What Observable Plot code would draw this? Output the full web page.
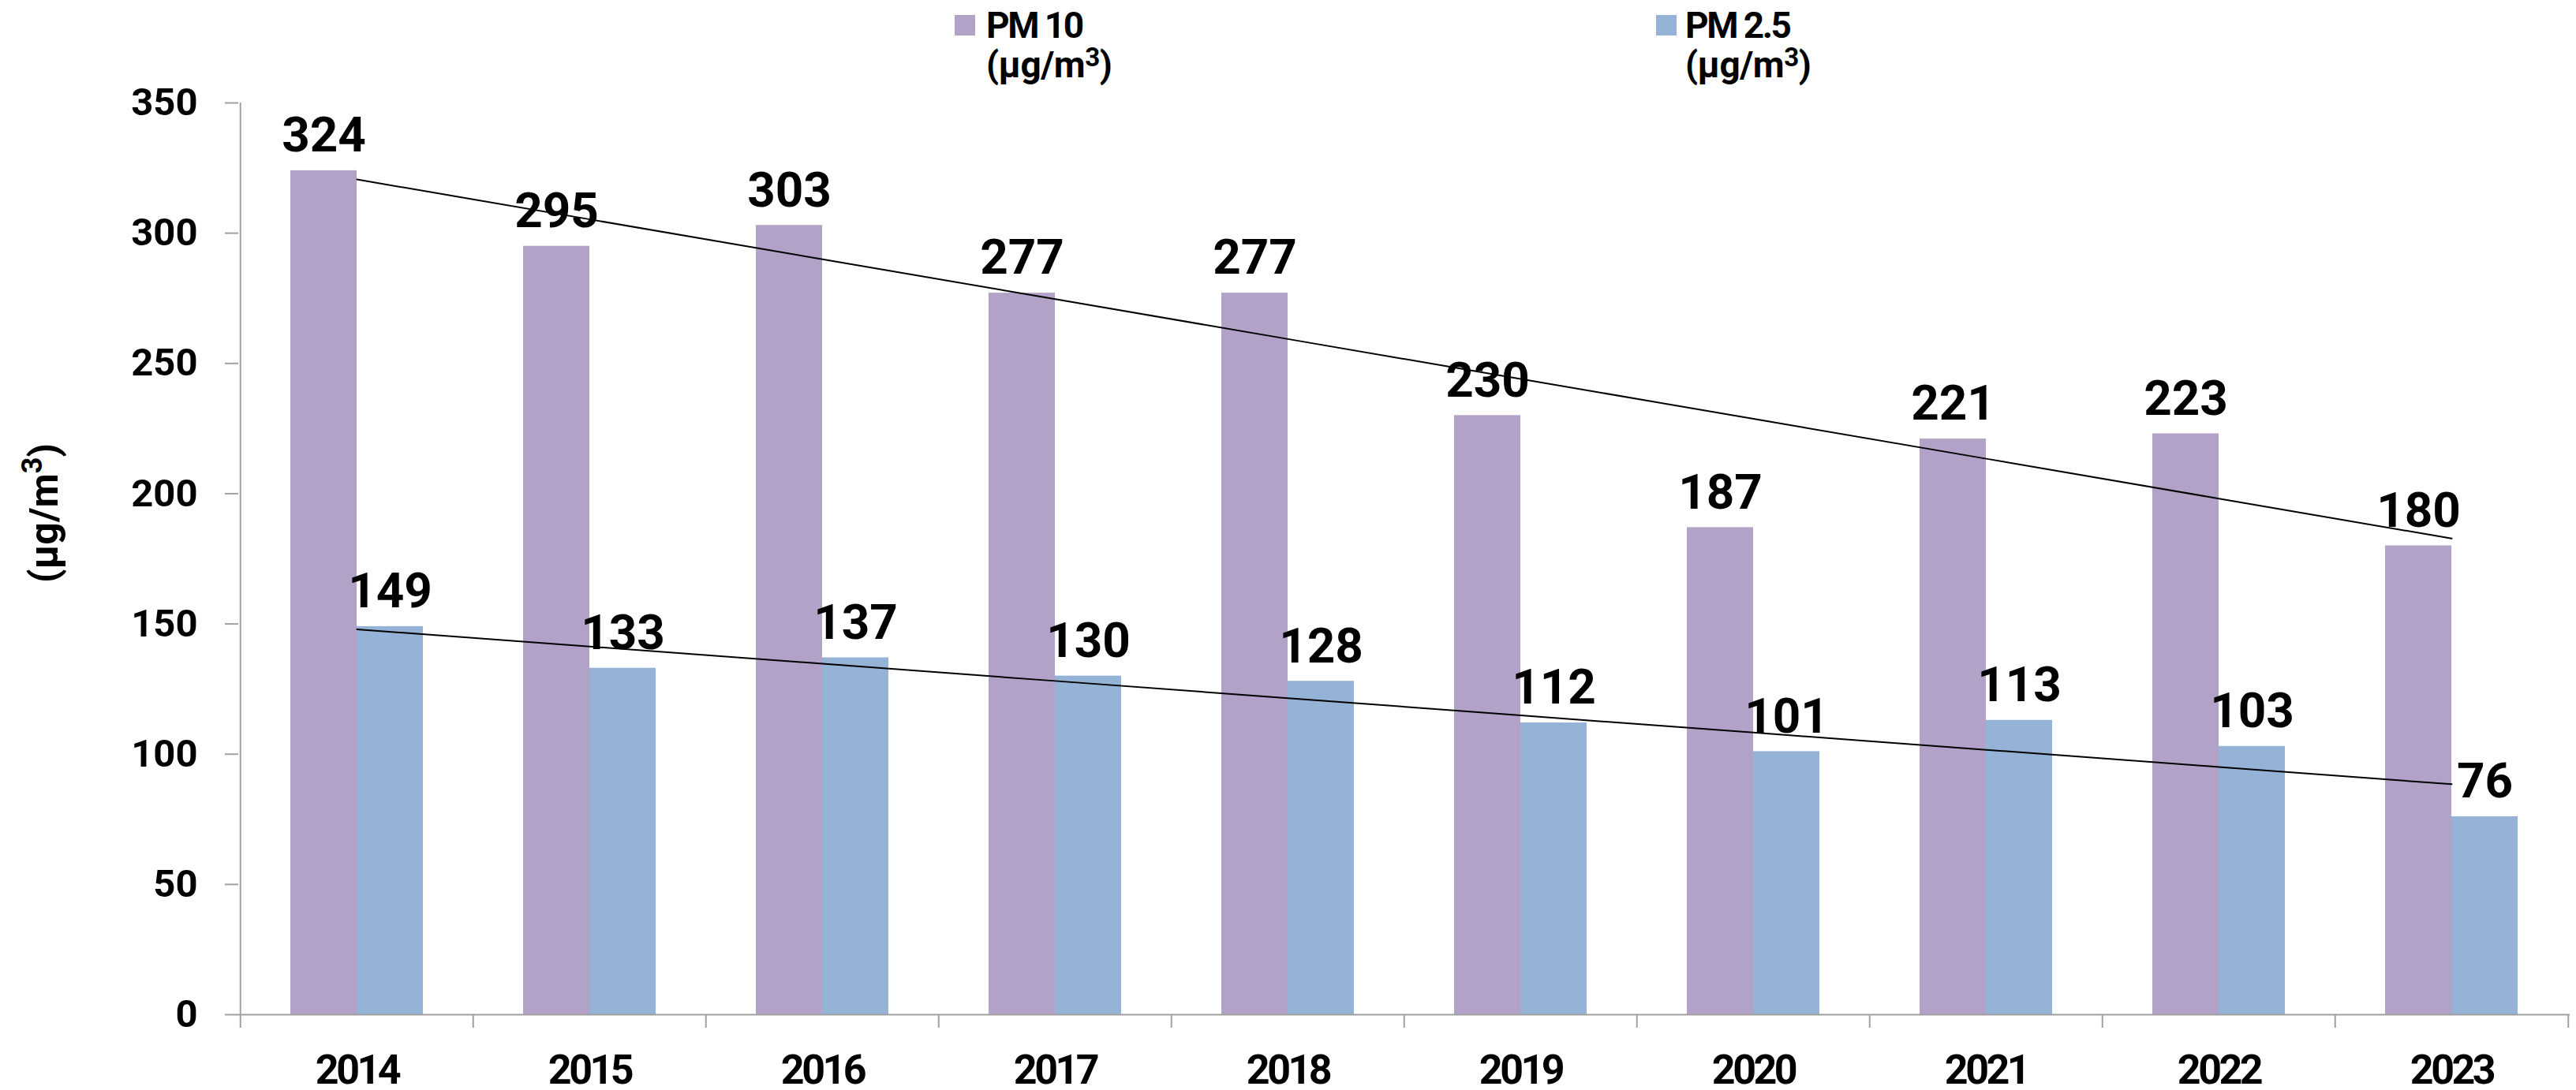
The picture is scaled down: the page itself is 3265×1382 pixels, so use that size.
<!DOCTYPE html>
<html>
<head>
<meta charset="utf-8">
<script src="https://cdn.jsdelivr.net/npm/d3@7"></script>
<script src="https://cdn.jsdelivr.net/npm/@observablehq/plot@0.6"></script>
<style>
  html, body { margin: 0; padding: 0; background: #fff; }
  body { width: 3265px; font-family: Roboto, "Noto Sans", sans-serif; }
  #legend { position: relative; width: 3265px; height: 110px; }
  .sw { position: absolute; width: 26px; height: 26px; top: 19px; }
  .lt { position: absolute; top: 7px; font-size: 46px; line-height: 50px; font-weight: 700; color: #000; white-space: nowrap; }
  .lt .l1 { letter-spacing: -2.5px; }
  .lt .l2 { letter-spacing: -0.5px; }
  .lt sup { font-size: 0.72em; vertical-align: 0; position: relative; top: -0.42em; line-height: 0; }
  g[aria-label="x-axis tick label"] text { letter-spacing: -3.5px; }
</style>
</head>
<body>
<div id="legend"></div>
<div id="chart"></div>
<script>
// ---- data ----
const years = ["2014", "2015", "2016", "2017", "2018", "2019", "2020", "2021", "2022", "2023"];
const pm10 = [324, 295, 303, 277, 277, 230, 187, 221, 223, 180];
const pm25 = [149, 133, 137, 130, 128, 112, 101, 113, 103, 76];
const yTicks = [0, 50, 100, 150, 200, 250, 300, 350];
const seriesNames = ["PM 10", "PM 2.5"];
const unitBase = "(µg/m";
const unitSup = "3";
const unitEnd = ")";
const colors = ["#B3A2C7", "#95B3D7"];

// linear trend (least squares) for each series
function trend(vals) {
  const n = vals.length, mx = (n - 1) / 2, my = d3.mean(vals);
  let sxy = 0, sxx = 0;
  vals.forEach((v, i) => { sxy += (i - mx) * (v - my); sxx += (i - mx) ** 2; });
  const b = sxy / sxx;
  return vals.map((_, i) => my + b * (i - mx));
}
const t10 = trend(pm10), t25 = trend(pm25);
const data = years.map((y, i) => ({year: y, pm10: pm10[i], pm25: pm25[i], t10: t10[i], t25: t25[i]}));

// ---- legend ----
const legend = document.getElementById("legend");
[[1210, 1250], [2099, 2136]].forEach(([sx, tx], i) => {
  const s = document.createElement("div");
  s.className = "sw"; s.style.left = sx + "px"; s.style.background = colors[i];
  legend.appendChild(s);
  const t = document.createElement("div");
  t.className = "lt"; t.style.left = tx + "px";
  t.innerHTML = `<span class="l1">${seriesNames[i]}</span><br><span class="l2">${unitBase}<sup>${unitSup}</sup>${unitEnd}</span>`;
  legend.appendChild(t);
});

// ---- chart ----
const W = 3265, H = 1272, mL = 302, mR = 8, mT = 20, mB = 96;
const pi = 0.4315;
const step = (W - mL - mR) / years.length;
const barW = step * (1 - pi) / 2;
const grey = "#a0a0a0";
const unitFull = unitBase + unitSup + unitEnd;

const chart = Plot.plot({
  width: W, height: H,
  marginLeft: mL, marginRight: mR, marginTop: mT, marginBottom: mB,
  style: {fontFamily: "Roboto, sans-serif", background: "#fff", color: "#000", overflow: "visible"},
  x: {type: "band", domain: years, paddingInner: pi, paddingOuter: pi / 2, align: 0.5, axis: null},
  y: {domain: [0, 350], axis: null},
  marks: [
    Plot.barY(data, {x: "year", y: "pm10", fill: colors[0], insetRight: barW}),
    Plot.barY(data, {x: "year", y: "pm25", fill: colors[1], insetLeft: barW}),
    Plot.ruleY([0], {stroke: grey, strokeWidth: 2}),
    Plot.ruleX([years[0]], {x: d => d, y1: 0, y2: 350, dx: -step / 2, stroke: grey, strokeWidth: 2}),
    Plot.axisY({ticks: yTicks, tickSize: 17, tickFormat: () => "", stroke: grey, strokeWidth: 2, label: null}),
    Plot.axisY({ticks: yTicks, tickSize: 0, tickPadding: 52, fontSize: 49, fontWeight: 700, fill: "#000", label: null}),
    Plot.axisX({tickSize: 17, tickFormat: () => "", dx: -step / 2, stroke: grey, strokeWidth: 2, label: null}),
    Plot.axisX({ticks: [years[years.length - 1]], tickSize: 17, tickFormat: () => "", dx: step / 2, stroke: grey, strokeWidth: 2, label: null}),
    Plot.axisX({tickSize: 0, tickPadding: 51, fontSize: 52, fontWeight: 700, fill: "#000", label: null}),
    Plot.line(data, {x: "year", y: "t10", stroke: "#000", strokeWidth: 2}),
    Plot.line(data, {x: "year", y: "t25", stroke: "#000", strokeWidth: 2}),
    Plot.text(data, {x: "year", y: "pm10", text: d => String(d.pm10), dx: -barW / 2, dy: -44, fontSize: 62, fontWeight: 700, fill: "#000"}),
    Plot.text(data, {x: "year", y: "pm25", text: d => String(d.pm25), dx: barW / 2, dy: -44, fontSize: 62, fontWeight: 700, fill: "#000"}),
    Plot.text([unitFull], {frameAnchor: "left", textAnchor: "middle", rotate: -90, dx: 56 - mL, dy: 540 - (mT + H - mB) / 2, fontSize: 50, fontWeight: 700, fill: "#000"})
  ]
});
// render the superscript of the rotated unit title with tspans
d3.select(chart).selectAll("text").filter(function () { return this.textContent === unitFull; }).each(function () {
  const t = d3.select(this);
  t.text(null);
  t.append("tspan").text(unitBase);
  t.append("tspan").attr("font-size", "0.72em").attr("dy", "-0.55em").text(unitSup);
  t.append("tspan").attr("dy", "0.4em").text(unitEnd);
});
document.getElementById("chart").appendChild(chart);
</script>
</body>
</html>
